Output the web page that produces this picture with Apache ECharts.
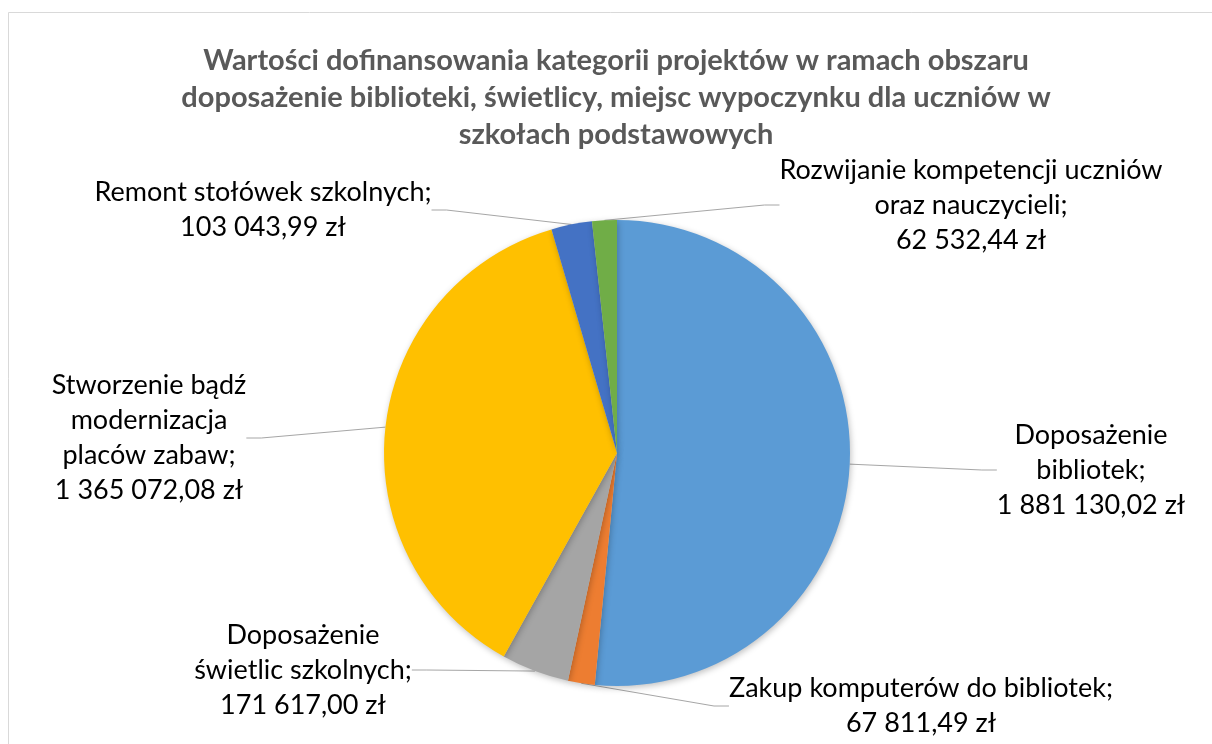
<!DOCTYPE html>
<html>
<head>
<meta charset="utf-8">
<script src="https://cdn.jsdelivr.net/npm/echarts@6/dist/echarts.min.js"></script>
<style>
html,body{margin:0;padding:0;background:#fff;}
#chart{width:1212px;height:744px;}
</style>
</head>
<body>
<div id="chart"></div>
<script>
// ---- data ----
const titleLines = [
  'Wartości dofinansowania kategorii projektów w ramach obszaru',
  'doposażenie biblioteki, świetlicy, miejsc wypoczynku dla uczniów w',
  'szkołach podstawowych'
];
const categories = [
  'Doposażenie\nbibliotek',
  'Zakup komputerów do bibliotek',
  'Doposażenie\nświetlic szkolnych',
  'Stworzenie bądź\nmodernizacja\nplaców zabaw',
  'Remont stołówek szkolnych',
  'Rozwijanie kompetencji uczniów\noraz nauczycieli'
];
const values = [1881130.02, 67811.49, 171617.00, 1365072.08, 103043.99, 62532.44];
const colors = ['#5B9BD5', '#ED7D31', '#A5A5A5', '#FFC000', '#4472C4', '#70AD47'];

// ---- layout (label block centres) ----
const labelPos = [
  [1091, 470],
  [921, 706],
  [303, 670],
  [149, 438],
  [263, 210],
  [971, 205]
];

function fmtPL(v) {
  const parts = v.toFixed(2).split('.');
  const intPart = parts[0].replace(/\B(?=(\d{3})+(?!\d))/g, ' ');
  return intPart + ',' + parts[1] + ' zł';
}

const FONT = 'Lato, "Open Sans", sans-serif';

const chart = echarts.init(document.getElementById('chart'), null, {renderer: 'canvas'});
chart.setOption({
  backgroundColor: '#ffffff',
  animation: false,
  graphic: [{
    type: 'rect',
    shape: {x: 8.5, y: 12.5, width: 1400, height: 900},
    style: {fill: 'none', stroke: '#D9D9D9', lineWidth: 1},
    silent: true,
    z: -10
  }],
  title: {
    text: titleLines.join('\n'),
    left: 611,
    top: 37,
    textAlign: 'center',
    textStyle: {
      fontFamily: FONT,
      fontSize: 29,
      fontWeight: 'bold',
      color: '#595959',
      lineHeight: 37
    }
  },
  series: [{
    type: 'pie',
    center: [617, 453],
    radius: [0, 233],
    startAngle: 90,
    clockwise: true,
    avoidLabelOverlap: false,
    itemStyle: {
      shadowBlur: 6,
      shadowColor: 'rgba(0,0,0,0.25)',
      shadowOffsetX: 1,
      shadowOffsetY: 2
    },
    label: {
      show: true,
      fontFamily: FONT,
      fontSize: 27,
      color: '#000000',
      lineHeight: 35,
      align: 'center',
      formatter: function (p) { return p.name + ';\n' + fmtPL(p.value); }
    },
    labelLine: {
      show: true,
      length: 20,
      length2: 15,
      lineStyle: {color: '#A6A6A6', width: 1}
    },
    labelLayout: function (p) {
      const pos = labelPos[p.dataIndex];
      return {x: pos[0], y: pos[1], align: 'center', verticalAlign: 'middle'};
    },
    data: categories.map((c, i) => ({name: c, value: values[i], itemStyle: {color: colors[i]}}))
  }]
});
</script>
</body>
</html>
